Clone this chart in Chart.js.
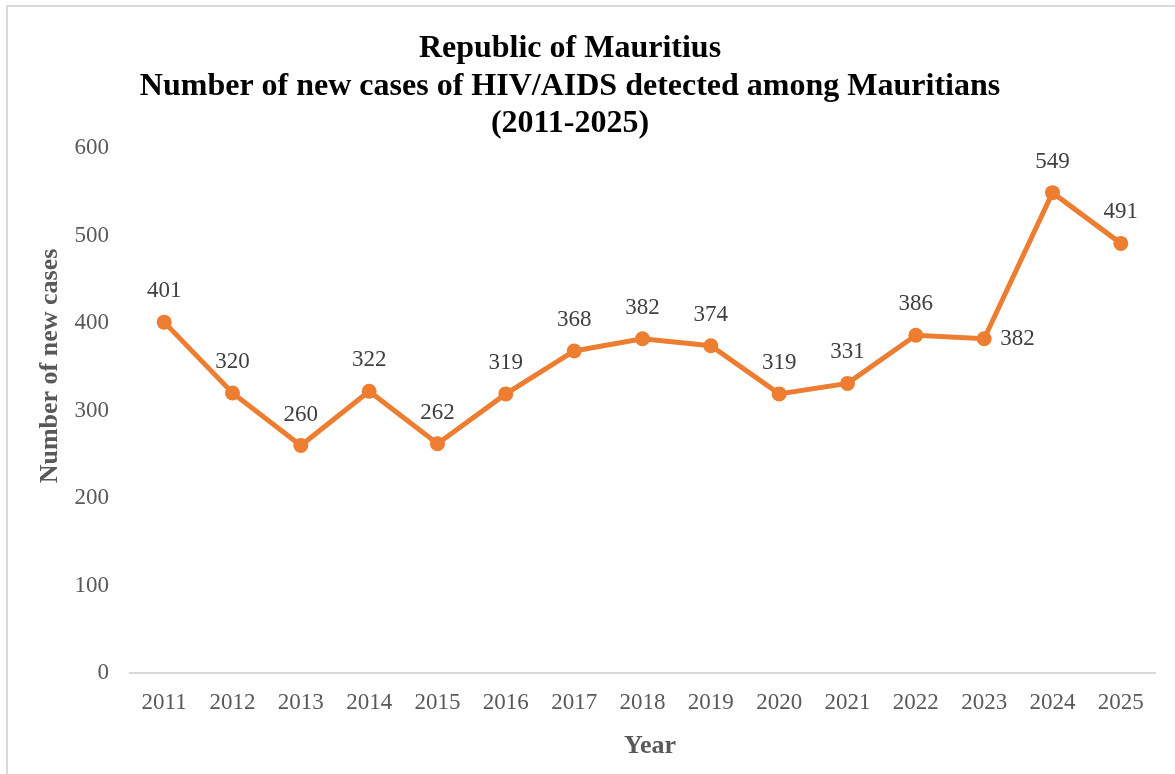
<!DOCTYPE html>
<html>
<head>
<meta charset="utf-8">
<script src="https://cdn.jsdelivr.net/npm/chart.js@4"></script>
<style>
  html, body { margin: 0; padding: 0; background: #fff; }
  #wrap { position: relative; width: 1175px; height: 774px; overflow: hidden; }
  #frame { position: absolute; left: 6px; top: 5px; width: 1200px; height: 800px; border: 2px solid #d9d9d9; box-sizing: border-box; }
  canvas { position: absolute; left: 0; top: 0; }
</style>
</head>
<body>
<div id="wrap">
  <div id="frame"></div>
  <canvas id="casesChart" width="1175" height="774"></canvas>
</div>
<script>
const years = ['2011', '2012', '2013', '2014', '2015', '2016', '2017', '2018', '2019', '2020', '2021', '2022', '2023', '2024', '2025'];
const newCases = [401, 320, 260, 322, 262, 319, 368, 382, 374, 319, 331, 386, 382, 549, 491];
const titleLines = ['Republic of Mauritius', 'Number of new cases of HIV/AIDS detected among Mauritians', '(2011-2025)'];
const xTitle = 'Year';
const yTitle = 'Number of new cases';

const serif = '"Liberation Serif", "Times New Roman", serif';

// Chart title and axis titles, placed like the original
const titlePlugin = {
    id: 'titleLines',
    afterDraw(chart) {
        const ctx = chart.ctx;
        ctx.save();
        ctx.font = 'bold 32px ' + serif;
        ctx.fillStyle = '#000';
        ctx.textAlign = 'center';
        ctx.textBaseline = 'middle';
        titleLines.forEach((line, i) => ctx.fillText(line, 570, 49 + i * 37.5));

        ctx.font = 'bold 26px ' + serif;
        ctx.fillStyle = '#595959';
        ctx.fillText(xTitle, 650, 746);

        ctx.translate(50, 366);
        ctx.rotate(-Math.PI / 2);
        ctx.fillText(yTitle, 0, 0);
        ctx.restore();
    }
};

// Value labels above each point (2023 sits to the right)
const labelPlugin = {
    id: 'valueLabels',
    afterDatasetsDraw(chart) {
        const ctx = chart.ctx;
        const meta = chart.getDatasetMeta(0);
        ctx.save();
        ctx.font = '23px ' + serif;
        ctx.fillStyle = '#404040';
        ctx.textBaseline = 'middle';
        meta.data.forEach((pt, i) => {
            const v = chart.data.datasets[0].data[i];
            if (years[i] === '2023') {
                ctx.textAlign = 'left';
                ctx.fillText(v, pt.x + 16, pt.y);
            } else {
                ctx.textAlign = 'center';
                ctx.fillText(v, pt.x, pt.y - 31);
            }
        });
        ctx.restore();
    }
};

new Chart(document.getElementById('casesChart').getContext('2d'), {
    type: 'line',
    data: {
        labels: years,
        datasets: [{
            data: newCases,
            borderColor: '#ED7D31',
            backgroundColor: '#ED7D31',
            borderWidth: 5,
            pointRadius: 7.5,
            pointBorderWidth: 0,
            pointHoverRadius: 7.5,
            fill: false,
            tension: 0
        }]
    },
    options: {
        responsive: false,
        animation: false,
        layout: { padding: { top: 148, right: 20, left: 0, bottom: 0 } },
        plugins: {
            legend: { display: false },
            title: { display: false },
            tooltip: { enabled: false }
        },
        scales: {
            x: {
                offset: true,
                grid: { display: false, drawTicks: false },
                border: { display: true, color: '#d9d9d9', width: 2 },
                ticks: { color: '#595959', font: { family: serif, size: 23 }, padding: 16, maxRotation: 0 },
                afterFit(scale) { scale.height = 101; }
            },
            y: {
                min: 0,
                max: 600,
                grid: { display: false, drawTicks: false },
                border: { display: false },
                ticks: { stepSize: 100, color: '#595959', font: { family: serif, size: 23 }, padding: 21 },
                afterFit(scale) { scale.width = 130; }
            }
        }
    },
    plugins: [titlePlugin, labelPlugin]
});
</script>
</body>
</html>
